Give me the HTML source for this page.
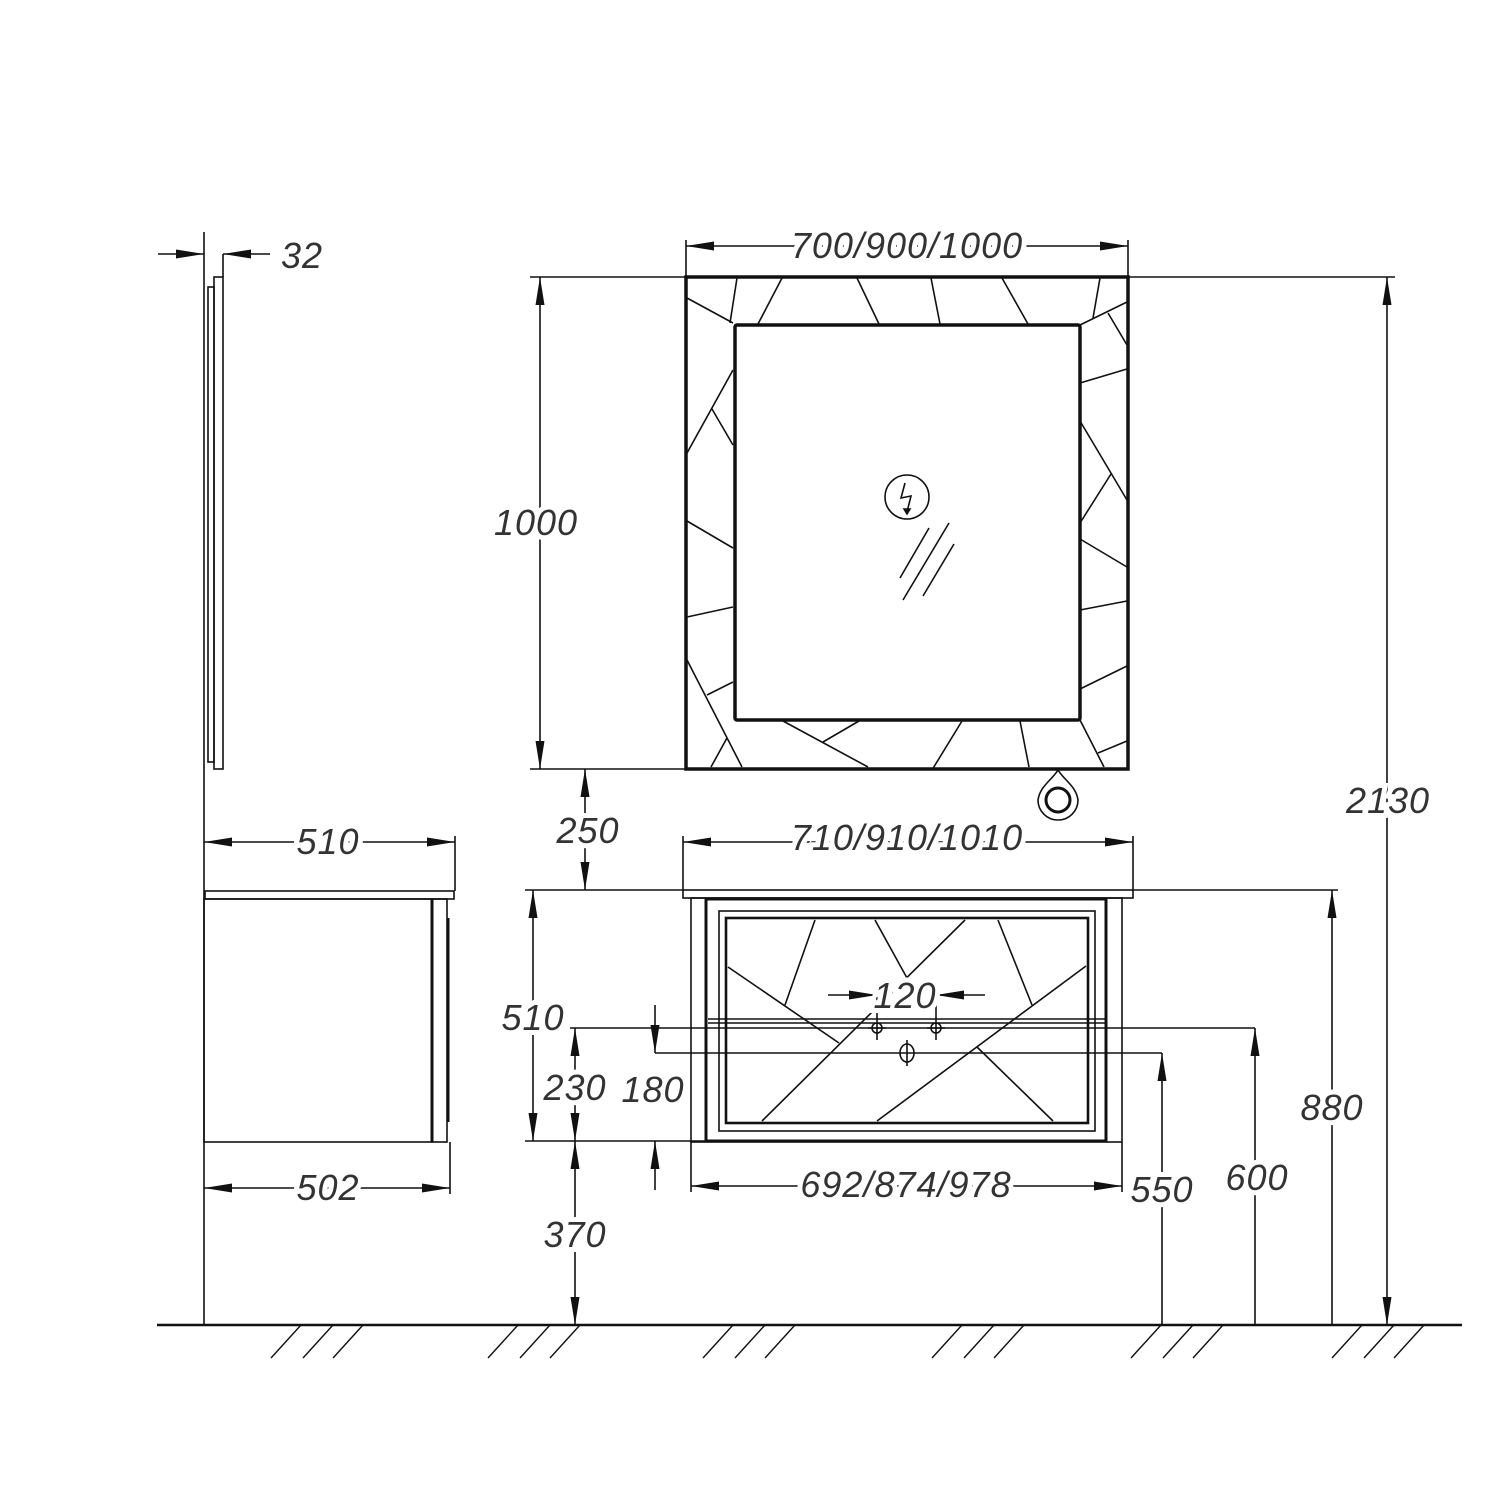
<!DOCTYPE html>
<html><head><meta charset="utf-8"><style>
html,body{margin:0;padding:0;background:#fff}
svg{display:block}
text{font-family:"Liberation Sans",sans-serif;font-style:italic;font-size:36px;fill:#333;stroke:#fff;stroke-width:10px;paint-order:stroke;text-anchor:middle;letter-spacing:1px}
</style></head><body>
<svg width="1500" height="1500" viewBox="0 0 1500 1500" xmlns="http://www.w3.org/2000/svg">
<defs>
<marker id="a" viewBox="0 0 28 10" refX="28" refY="5" markerWidth="28" markerHeight="10" markerUnits="userSpaceOnUse" orient="auto-start-reverse"><path d="M0,0.5 L28,5 L0,9.5 Z" fill="#111"/></marker>
</defs>
<g stroke="#111" fill="none" stroke-width="1.6">
<line x1="204" y1="232" x2="204" y2="1325"/>
<line x1="157" y1="1325" x2="1462" y2="1325" stroke-width="2.5"/>
<g stroke-width="1.4">
<line x1="301" y1="1325" x2="271" y2="1358"/><line x1="333" y1="1325" x2="303" y2="1358"/><line x1="363" y1="1325" x2="333" y2="1358"/>
<line x1="518" y1="1325" x2="488" y2="1358"/><line x1="550" y1="1325" x2="520" y2="1358"/><line x1="580" y1="1325" x2="550" y2="1358"/>
<line x1="733" y1="1325" x2="703" y2="1358"/><line x1="765" y1="1325" x2="735" y2="1358"/><line x1="795" y1="1325" x2="765" y2="1358"/>
<line x1="962" y1="1325" x2="932" y2="1358"/><line x1="994" y1="1325" x2="964" y2="1358"/><line x1="1024" y1="1325" x2="994" y2="1358"/>
<line x1="1161" y1="1325" x2="1131" y2="1358"/><line x1="1193" y1="1325" x2="1163" y2="1358"/><line x1="1223" y1="1325" x2="1193" y2="1358"/>
<line x1="1362" y1="1325" x2="1332" y2="1358"/><line x1="1394" y1="1325" x2="1364" y2="1358"/><line x1="1424" y1="1325" x2="1394" y2="1358"/>
</g>

<rect x="208" y="287" width="6" height="475"/>
<rect x="214" y="277" width="9" height="492"/>
<line x1="223" y1="254" x2="223" y2="277"/>
<line x1="158" y1="254" x2="204" y2="254" marker-end="url(#a)"/>
<line x1="270" y1="254" x2="223" y2="254" marker-end="url(#a)"/>

<rect x="205" y="891" width="249" height="8"/>
<rect x="204" y="899" width="228" height="243"/>
<line x1="432" y1="899" x2="432" y2="1142" stroke-width="3"/>
<rect x="432" y="899" width="15" height="243"/>
<line x1="448" y1="918" x2="448" y2="1122" stroke-width="3"/>
<line x1="450" y1="1142" x2="450" y2="1194"/>
<line x1="455" y1="836" x2="455" y2="891"/>
<line x1="204" y1="842" x2="455" y2="842" marker-start="url(#a)" marker-end="url(#a)"/>
<line x1="204" y1="1188" x2="450" y2="1188" marker-start="url(#a)" marker-end="url(#a)"/>

<rect x="686" y="277" width="442" height="492" stroke-width="3.5"/>
<rect x="735" y="325" width="345" height="395" stroke-width="3.5" rx="2"/>
<g stroke-width="1.6">
<line x1="737" y1="278" x2="730" y2="323"/><line x1="782" y1="278" x2="758" y2="324"/><line x1="857" y1="278" x2="879" y2="324"/><line x1="931" y1="278" x2="940" y2="324"/><line x1="1002" y1="278" x2="1028" y2="324"/><line x1="1100" y1="278" x2="1093" y2="318"/><line x1="687" y1="298" x2="733" y2="323"/>
<line x1="1080" y1="325" x2="1127" y2="302"/><line x1="1108" y1="313" x2="1127" y2="345"/><line x1="1080" y1="383" x2="1127" y2="369"/>
<line x1="1080" y1="421" x2="1127" y2="500"/><line x1="1111" y1="474" x2="1080" y2="523"/><line x1="1080" y1="539" x2="1127" y2="567"/><line x1="1080" y1="610" x2="1127" y2="601"/><line x1="1080" y1="689" x2="1127" y2="666"/><line x1="1080" y1="720" x2="1104" y2="767"/><line x1="1098" y1="753" x2="1127" y2="741"/>
<line x1="783" y1="721" x2="868" y2="767"/><line x1="823" y1="742" x2="859" y2="721"/><line x1="962" y1="721" x2="932" y2="770"/><line x1="1020" y1="721" x2="1029" y2="767"/>
<line x1="733" y1="370" x2="687" y2="453"/><line x1="712" y1="409" x2="733" y2="445"/><line x1="687" y1="521" x2="733" y2="548"/><line x1="687" y1="617" x2="733" y2="607"/><line x1="687" y1="660" x2="742" y2="767"/><line x1="707" y1="695" x2="733" y2="682"/><line x1="727" y1="738" x2="711" y2="767"/>
<circle cx="907" cy="497" r="22"/>
<path d="M905,483 L901,498 L911,496 L907,512"/>
<path d="M904,509 L907,514 L910,509 Z" fill="#111"/>
<line x1="900" y1="578" x2="929" y2="528"/><line x1="903" y1="600" x2="949" y2="523"/><line x1="923" y1="596" x2="954" y2="544"/>
</g>
<path d="M1058,770 C1052,780 1040,786 1038,800 A20,20 0 0 0 1078,800 C1076,786 1064,780 1058,770 Z" stroke-width="1.6"/>
<circle cx="1058" cy="800" r="12" stroke-width="3"/>

<line x1="686" y1="240" x2="686" y2="277"/><line x1="1128" y1="240" x2="1128" y2="277"/>
<line x1="686" y1="246" x2="1128" y2="246" marker-start="url(#a)" marker-end="url(#a)"/>
<line x1="530" y1="277" x2="686" y2="277"/><line x1="530" y1="769" x2="686" y2="769"/>
<line x1="540" y1="277" x2="540" y2="769" marker-start="url(#a)" marker-end="url(#a)"/>
<line x1="1128" y1="277" x2="1395" y2="277"/>
<line x1="1387" y1="277" x2="1387" y2="1325" marker-start="url(#a)" marker-end="url(#a)"/>
<line x1="585" y1="769" x2="585" y2="890" marker-start="url(#a)" marker-end="url(#a)"/>

<rect x="683" y="890" width="450" height="8"/>
<rect x="691" y="898" width="431" height="244"/>
<rect x="706" y="899" width="400" height="242" stroke-width="3"/>
<rect x="719" y="911" width="376" height="220"/>
<rect x="726" y="918" width="362" height="205" stroke-width="2.6"/>
<line x1="708" y1="1019" x2="1106" y2="1019"/><line x1="708" y1="1023" x2="1106" y2="1023"/>
<g stroke-width="1.6">
<line x1="815" y1="920" x2="785" y2="1005"/><line x1="875" y1="920" x2="907" y2="978"/><line x1="965" y1="920" x2="762" y2="1121"/><line x1="998" y1="920" x2="1032" y2="1005"/><line x1="728" y1="967" x2="839" y2="1043"/><line x1="1086" y1="966" x2="877" y2="1121"/><line x1="977" y1="1047" x2="1053" y2="1121"/>
</g>
<circle cx="877" cy="1028" r="5"/><line x1="868" y1="1028" x2="886" y2="1028"/><line x1="877" y1="990" x2="877" y2="1040"/>
<circle cx="936" cy="1028" r="5"/><line x1="927" y1="1028" x2="945" y2="1028"/><line x1="936" y1="990" x2="936" y2="1040"/>
<ellipse cx="907" cy="1053" rx="7" ry="9"/><line x1="907" y1="1040" x2="907" y2="1066"/>
<line x1="828" y1="995" x2="877" y2="995" marker-end="url(#a)"/>
<line x1="985" y1="995" x2="936" y2="995" marker-end="url(#a)"/>

<line x1="683" y1="836" x2="683" y2="890"/><line x1="1133" y1="836" x2="1133" y2="890"/>
<line x1="683" y1="842" x2="1133" y2="842" marker-start="url(#a)" marker-end="url(#a)"/>
<line x1="525" y1="890" x2="683" y2="890"/>
<line x1="533" y1="890" x2="533" y2="1141" marker-start="url(#a)" marker-end="url(#a)"/>
<line x1="525" y1="1141" x2="706" y2="1141"/>
<line x1="570" y1="1028" x2="1255" y2="1028"/>
<line x1="575" y1="1028" x2="575" y2="1141" marker-start="url(#a)" marker-end="url(#a)"/>
<line x1="575" y1="1141" x2="575" y2="1325" marker-start="url(#a)" marker-end="url(#a)"/>
<line x1="655" y1="1053" x2="1162" y2="1053"/>
<line x1="655" y1="1005" x2="655" y2="1053" marker-end="url(#a)"/>
<line x1="655" y1="1190" x2="655" y2="1141" marker-end="url(#a)"/>
<line x1="691" y1="1142" x2="691" y2="1192"/><line x1="1122" y1="1142" x2="1122" y2="1192"/>
<line x1="691" y1="1186" x2="1122" y2="1186" marker-start="url(#a)" marker-end="url(#a)"/>
<line x1="1162" y1="1325" x2="1162" y2="1053" marker-end="url(#a)"/>
<line x1="1255" y1="1325" x2="1255" y2="1028" marker-end="url(#a)"/>
<line x1="1133" y1="890" x2="1338" y2="890"/>
<line x1="1332" y1="1325" x2="1332" y2="890" marker-end="url(#a)"/>
</g>

<text x="302" y="268">32</text>
<text x="907" y="258">700/900/1000</text>
<text x="536" y="535">1000</text>
<text x="1388" y="813">2130</text>
<text x="588" y="843">250</text>
<text x="907" y="850">710/910/1010</text>
<text x="328" y="854">510</text>
<text x="328" y="1200">502</text>
<text x="533" y="1030">510</text>
<text x="575" y="1100">230</text>
<text x="653" y="1102">180</text>
<text x="905" y="1008">120</text>
<text x="906" y="1197">692/874/978</text>
<text x="1162" y="1202">550</text>
<text x="1257" y="1190">600</text>
<text x="1332" y="1120">880</text>
<text x="575" y="1247">370</text>
</svg>
</body></html>
